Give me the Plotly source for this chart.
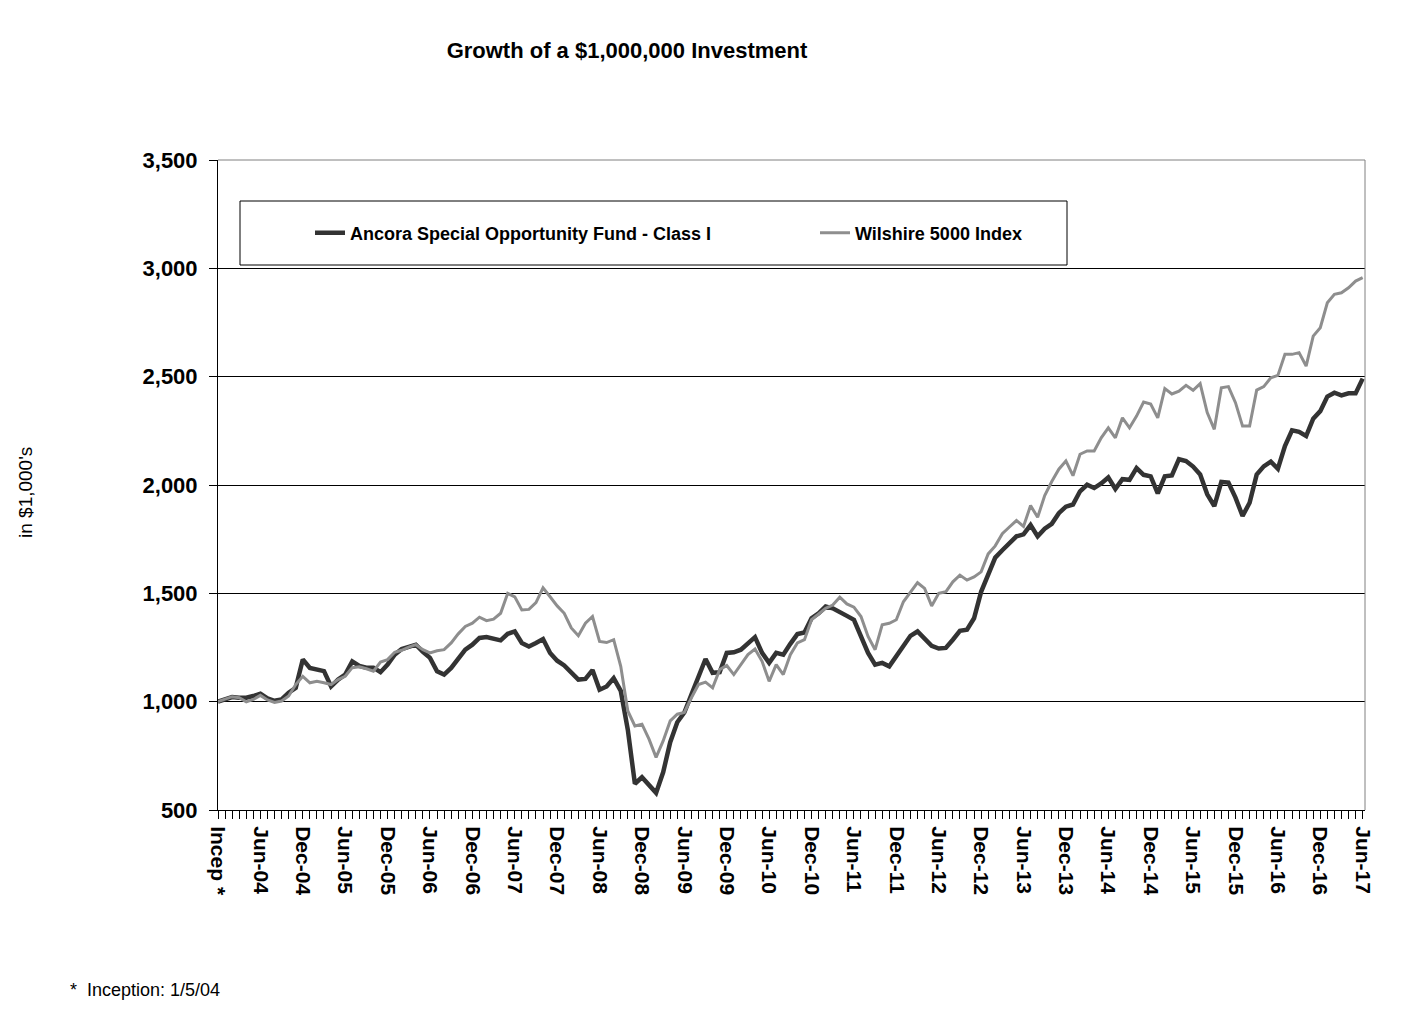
import plotly.graph_objects as go

# ---------------- data (values in $1,000's, monthly, Incep .. Jun-17) ----------------
fund_values = [
    1000, 1010, 1021, 1018, 1018, 1026, 1037, 1015, 1004, 1010,
    1041, 1064, 1195, 1156, 1148, 1141, 1070, 1102, 1125, 1186,
    1165, 1157, 1157, 1136, 1171, 1217, 1243, 1252, 1263, 1230,
    1202, 1140, 1125, 1156, 1202, 1240, 1263, 1294, 1298, 1291,
    1283, 1313, 1324, 1271, 1255, 1271, 1289, 1225, 1189, 1167,
    1136, 1102, 1105, 1146, 1055, 1070, 1108, 1050, 870, 621,
    651, 617, 579, 674, 813, 905, 950, 1033, 1110, 1197,
    1133, 1136, 1225, 1228, 1240, 1271, 1298, 1225, 1179, 1225,
    1217, 1267, 1312, 1319, 1385, 1408, 1439, 1431, 1411, 1396,
    1378, 1301, 1225, 1171, 1179, 1163, 1209, 1263, 1304, 1324,
    1290, 1258, 1245, 1248, 1286, 1327, 1332, 1385, 1507, 1590,
    1665, 1699, 1729, 1763, 1772, 1815, 1763, 1798, 1821, 1870,
    1900, 1910, 1971, 2001, 1986, 2007, 2035, 1982, 2027, 2024,
    2078, 2047, 2040, 1961, 2040, 2044, 2119, 2111, 2085, 2049,
    1957, 1903, 2014, 2011, 1942, 1857, 1918, 2048, 2086, 2108,
    2075, 2180, 2252, 2245, 2226, 2306, 2341, 2408, 2426, 2414,
    2423, 2423, 2491,
]

wilshire_values = [
    1000, 1013, 1023, 1018, 999, 1010, 1029, 1008, 996, 1003,
    1026, 1079, 1117, 1087, 1094, 1087, 1079, 1102, 1117, 1157,
    1161, 1152, 1141, 1183, 1194, 1228, 1237, 1252, 1263, 1240,
    1225, 1235, 1240, 1271, 1313, 1347, 1362, 1390, 1374, 1381,
    1408, 1500, 1484, 1423, 1426, 1457, 1525, 1484, 1442, 1408,
    1340, 1304, 1362, 1393, 1278, 1273, 1286, 1163, 957, 888,
    896, 827, 743, 819, 911, 942, 950, 1018, 1079, 1090,
    1064, 1148, 1167, 1125, 1171, 1217, 1243, 1186, 1094, 1171,
    1125, 1217, 1271, 1286, 1378, 1405, 1431, 1446, 1482, 1451,
    1436, 1393, 1301, 1240, 1355, 1362, 1378, 1461, 1507, 1549,
    1523, 1442, 1500, 1507, 1553, 1584, 1561, 1576, 1599, 1682,
    1719, 1775, 1806, 1836, 1809, 1905, 1851, 1951, 2016, 2073,
    2111, 2043, 2142, 2157, 2157, 2218, 2264, 2218, 2310, 2264,
    2318, 2383, 2374, 2310, 2445, 2420, 2433, 2460, 2437, 2468,
    2334, 2257, 2449, 2454, 2380, 2272, 2272, 2438, 2454, 2495,
    2506, 2603, 2603, 2611, 2549, 2687, 2726, 2841, 2880, 2887,
    2910, 2941, 2957,
]

tick_labels = [
    "Incep *", "Jun-04", "Dec-04", "Jun-05", "Dec-05", "Jun-06", "Dec-06",
    "Jun-07", "Dec-07", "Jun-08", "Dec-08", "Jun-09", "Dec-09", "Jun-10",
    "Dec-10", "Jun-11", "Dec-11", "Jun-12", "Dec-12", "Jun-13", "Dec-13",
    "Jun-14", "Dec-14", "Jun-15", "Dec-15", "Jun-16", "Dec-16", "Jun-17",
]

series_names = ["Ancora Special Opportunity Fund - Class I", "Wilshire 5000 Index"]

months = list(range(len(fund_values)))
tick_positions = months[::6]

FONT = "Liberation Sans, Arial, sans-serif"

# page has an 8px body margin; figure is sized/offset to compensate
W, H = 1419, 1008
OFF = 8

fig = go.Figure()
fig.add_trace(go.Scatter(
    x=months, y=fund_values, mode="lines", name=series_names[0],
    line=dict(color="#333333", width=4.5),
))
fig.add_trace(go.Scatter(
    x=months, y=wilshire_values, mode="lines", name=series_names[1],
    line=dict(color="#8e8e8e", width=3),
))

fig.update_layout(
    width=W, height=H,
    margin=dict(l=218 - OFF, r=62, t=160 - OFF, b=206, autoexpand=False),
    paper_bgcolor="white", plot_bgcolor="white",
    font=dict(family=FONT, color="black"),
    title=dict(
        text="<b>Growth of a $1,000,000 Investment</b>",
        x=(627 - OFF) / W, xanchor="center", xref="container",
        y=1 - (50 - OFF) / H, yanchor="middle", yref="container",
        font=dict(size=22, family=FONT, color="black"),
    ),
    showlegend=True,
    legend=dict(
        orientation="h",
        x=(310 - 218) / 1147, xanchor="left",
        y=(810 - 233) / 650, yanchor="middle",
        bgcolor="rgba(0,0,0,0)", borderwidth=0,
        font=dict(size=18, family=FONT, color="black", weight="bold"),
        entrywidth=460, entrywidthmode="pixels",
        itemwidth=30,
    ),
    xaxis=dict(
        range=[0, 162.33],
        tickmode="array", tickvals=tick_positions, ticktext=tick_labels,
        tickangle=90,
        ticks="outside", ticklen=8, tickcolor="black", tickwidth=1,
        minor=dict(tickmode="linear", tick0=0, dtick=1, ticks="outside",
                   ticklen=8, tickcolor="black", tickwidth=1, showgrid=False),
        showline=True, linecolor="black", linewidth=1,
        showgrid=False, zeroline=False,
        tickfont=dict(size=21, family=FONT, color="black", weight="bold"),
        ticklabelstandoff=3,
    ),
    yaxis=dict(
        range=[500, 3500], tickmode="linear", tick0=500, dtick=500,
        tickformat=",d",
        ticks="outside", ticklen=8, tickcolor="black", tickwidth=1,
        showline=True, linecolor="black", linewidth=1,
        showgrid=True, gridcolor="black", gridwidth=1,
        zeroline=False,
        tickfont=dict(size=22, family=FONT, color="black", weight="bold"),
        ticklabelstandoff=7,
    ),
    shapes=[
        # legend frame
        dict(type="rect", xref="paper", yref="paper",
             x0=(240 - 218) / 1147, x1=(1067 - 218) / 1147,
             y0=(810 - 265) / 650, y1=(810 - 201) / 650,
             line=dict(color="black", width=1), fillcolor="white", layer="below"),
        # plot area top / right border
        dict(type="line", xref="paper", yref="paper", x0=0, x1=1, y0=1, y1=1,
             line=dict(color="#808080", width=1), layer="above"),
        dict(type="line", xref="paper", yref="paper", x0=1, x1=1, y0=0, y1=1,
             line=dict(color="#808080", width=1), layer="above"),
    ],
    annotations=[
        dict(text="in $1,000's", xref="paper", yref="paper",
             x=(25 - 218) / 1147, y=(810 - 493) / 650,
             xanchor="center", yanchor="middle", textangle=-90, showarrow=False,
             font=dict(size=19, family=FONT, color="black")),
        dict(text="*  Inception: 1/5/04", xref="paper", yref="paper",
             x=(68 - 218) / 1147, y=(810 - 990) / 650,
             xanchor="left", yanchor="middle", showarrow=False,
             font=dict(size=18, family=FONT, color="black")),
    ],
)

fig.write_html("out.html")
